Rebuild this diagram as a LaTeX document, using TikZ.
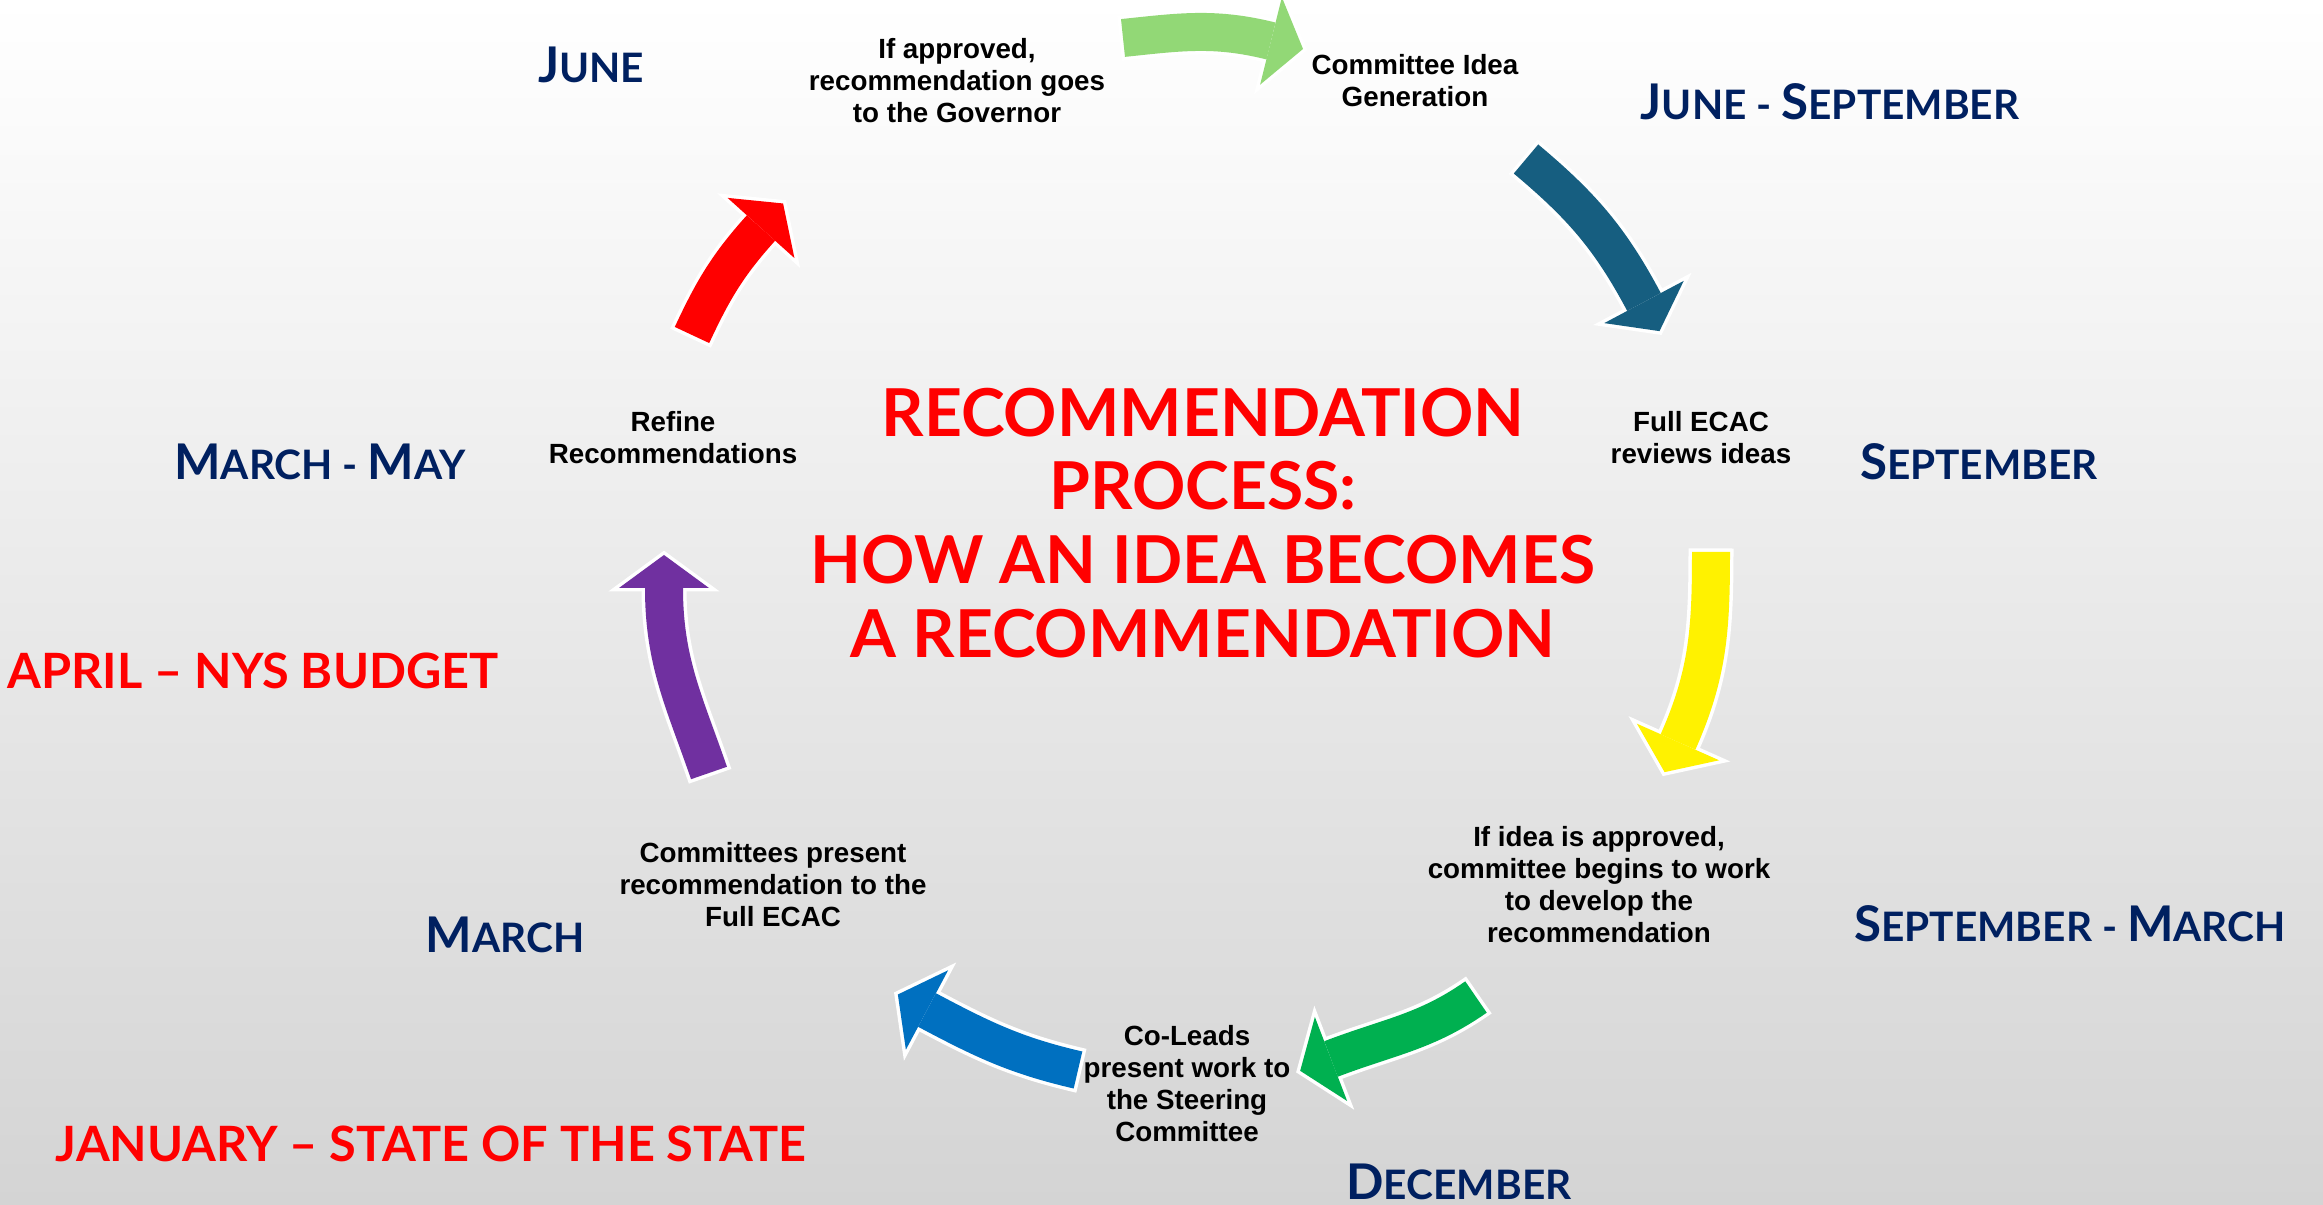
\documentclass[tikz,border=0pt]{standalone}
\usepackage{fontspec}
\setmainfont{Liberation Sans}
\newfontfamily\headfont{Lato}
\usepackage{tikz}
\usetikzlibrary{calc}
\definecolor{navy}{RGB}{0,32,96}
\definecolor{bgbottom}{RGB}{212,212,212}
\definecolor{lightgreen}{RGB}{146,216,118}
\definecolor{arrowteal}{RGB}{22,94,128}
\definecolor{arrowgreen}{RGB}{0,176,80}
\definecolor{arrowblue}{RGB}{0,112,192}
\definecolor{arrowpurple}{RGB}{112,48,160}
\newcommand{\capL}[1]{{\fontsize{14}{16}\selectfont#1}}
% freccia del ciclo: colore, coda, angolo uscita, base della punta, angolo entrata
\newcommand{\cyclearrow}[5]{%
    \pgfmathsetmacro{\headdir}{#5-180}
    \draw[white, line width=\shaftout mm, shorten <=-\rim mm] (#2) to[out=#3, in=#5] (#4);
    \begin{scope}[shift={(#4)}, rotate=\headdir]
        \filldraw[white, line width=\rimw mm, line join=miter] (0,\headw) -- (\headl,0) -- (0,-\headw) -- cycle;
    \end{scope}
    \draw[#1, line width=\shaft mm] (#2) to[out=#3, in=#5] (#4);
    \begin{scope}[shift={(#4)}, rotate=\headdir]
        \fill[#1] (0,\headw) -- (\headl,0) -- (0,-\headw) -- cycle;
    \end{scope}
}
\tikzset{
    steptext/.style={font=\bfseries\fontsize{7.9}{9.1}\selectfont, align=center, inner sep=0pt},
    monthlbl/.style={font=\headfont\bfseries\fontsize{11.55}{13}\selectfont, text=navy, inner sep=0pt},
    eventlbl/.style={font=\headfont\bfseries\fontsize{13.85}{16}\selectfont, text=red, inner sep=0pt},
    titletext/.style={font=\headfont\bfseries\fontsize{18.8}{21}\selectfont, text=red, align=center, inner sep=0pt}
}

\begin{document}
\begin{tikzpicture}[x=0.1mm, y=0.1mm]
    % Parametri
    \pgfmathsetmacro{\shaft}{3.8}
    \pgfmathsetmacro{\rim}{0.35}
    \pgfmathsetmacro{\rimw}{2*\rim}
    \pgfmathsetmacro{\shaftout}{\shaft+\rimw}
    \pgfmathsetmacro{\headw}{45}
    \pgfmathsetmacro{\headl}{33}
    % Sfondo
    \useasboundingbox (0,0) rectangle (2323,1205);
    \clip (0,0) rectangle (2323,1205);
    \shade[top color=white, bottom color=bgbottom] (0,0) rectangle (2323,1205);
    % Frecce
    \coordinate (gT) at (1123,1167);
    \coordinate (gE) at (1271,1164);
    \coordinate (tT) at (1526,1046);
    \coordinate (tE) at (1644,903);
    \coordinate (yT) at (1711,653);
    \coordinate (yE) at (1678,463);
    \coordinate (dT) at (1476,208);
    \coordinate (dE) at (1331,146);
    \coordinate (bT) at (1078,135);
    \coordinate (bE) at (927,195);
    \coordinate (pT) at (709,432);
    \coordinate (pE) at (664,617);
    \coordinate (rT) at (692,870);
    \coordinate (rE) at (761,977);
    \cyclearrow{lightgreen}{gT}{6}{gE}{166}
    \cyclearrow{arrowteal}{tT}{-40}{tE}{118}
    \cyclearrow{yellow}{yT}{-90}{yE}{66}
    \cyclearrow{arrowgreen}{dT}{215}{dE}{21}
    \cyclearrow{arrowblue}{bT}{167}{bE}{-28}
    \cyclearrow{arrowpurple}{pT}{109}{pE}{270}
    \cyclearrow{red}{rT}{65}{rE}{228}
    % Testi
    \node[titletext] (title) at (1203,682) {RECOMMENDATION\\PROCESS:\\HOW AN IDEA BECOMES\\A RECOMMENDATION};
    \node[steptext] (approved) at (957,1124) {If approved,\\recommendation goes\\to the Governor};
    \node[steptext] (ideagen) at (1415,1124) {Committee Idea\\Generation};
    \node[steptext] (review) at (1701,767) {Full ECAC\\reviews ideas};
    \node[steptext] (develop) at (1599,320) {If idea is approved,\\committee begins to work\\to develop the\\recommendation};
    \node[steptext] (coleads) at (1187,121) {Co-Leads\\present work to\\the Steering\\Committee};
    \node[steptext] (present) at (773,320) {Committees present\\recommendation to the\\Full ECAC};
    \node[steptext] (refine) at (673,767) {Refine\\Recommendations};
    % Mesi
    \node[monthlbl] (june) at (591,1140) {\capL{J}UNE};
    \node[monthlbl] (junesep) at (1830,1103) {\capL{J}UNE - \capL{S}EPTEMBER};
    \node[monthlbl] (sep) at (1979,743) {\capL{S}EPTEMBER};
    \node[monthlbl] (sepmar) at (2070,281) {\capL{S}EPTEMBER - \capL{M}ARCH};
    \node[monthlbl] (dec) at (1459,23) {\capL{D}ECEMBER};
    \node[monthlbl] (march) at (505,270) {\capL{M}ARCH};
    \node[monthlbl] (marmay) at (320,743) {\capL{M}ARCH - \capL{M}AY};
    \node[eventlbl, anchor=west] (april) at (7,534) {APRIL – NYS BUDGET};
    \node[eventlbl, anchor=west] (january) at (55,61) {JANUARY – STATE OF THE STATE};
\end{tikzpicture}
\end{document}
